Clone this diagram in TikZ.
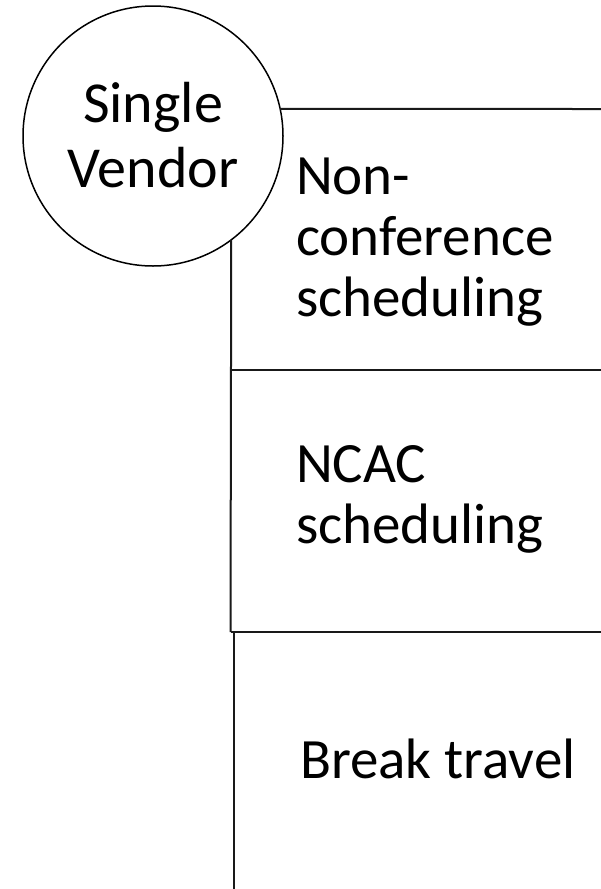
\documentclass[tikz,border=0pt]{standalone}
\usepackage{fontspec}
\setmainfont{Carlito}
\begin{document}
\begin{tikzpicture}[x=1pt,y=-1pt,
  rule/.style={line width=2pt, black!90},
  bigtext/.style={font=\fontsize{57}{61}\selectfont, inner sep=0pt, outer sep=0pt},
  listtext/.style={bigtext, align=left, anchor=base west}]
  \useasboundingbox (0,0) rectangle (601,889);

  % root circle (multi-line nodes are anchored at the last line's baseline)
  \node[circle, draw, line width=1.5pt, minimum size=260pt, inner sep=0pt, outer sep=0pt] (vendor) at (153,136) {};
  \node[font=\fontsize{58}{65}\selectfont, align=center, inner sep=0pt, anchor=base] (vendortext) at (153,187) {Single\\Vendor};

  % item labels
  \node[listtext] (item1) at (296,316) {Non-\\conference\\scheduling};
  \node[listtext] (item2) at (296,543) {NCAC\\scheduling};
  \node[listtext] (item3) at (300,778) {Break travel};

  % frame coordinates
  \coordinate (topend) at (601,109);
  \coordinate (spineA) at (230.5,632);
  \coordinate (mid1L) at (230.5,370);
  \coordinate (mid1R) at (601,370);
  \coordinate (mid2R) at (601,632);
  \coordinate (spineB) at (233.5,632);
  \coordinate (spineEnd) at (233.5,889);

  % connector lines
  \draw[rule] (vendor.12) -- (topend);
  \draw[rule] (vendor.-53.4) -- (spineA);
  \draw[rule] (mid1L) -- (mid1R);
  \draw[rule] (spineA) -- (mid2R);
  \draw[rule] (spineB) -- (spineEnd);
\end{tikzpicture}
\end{document}
